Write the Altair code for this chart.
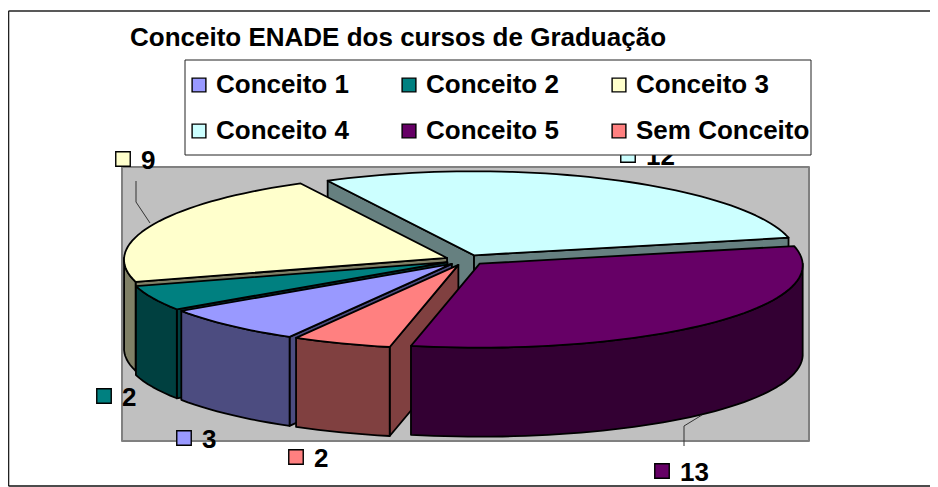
import math
import altair as alt
import pandas as pd

CATEGORIES = ["Conceito 1", "Conceito 2", "Conceito 3", "Conceito 4", "Conceito 5", "Sem Conceito"]
VALUES = [3, 2, 9, 12, 13, 2]
TOP_COLORS = ["#9999FF", "#008080", "#FFFFCC", "#CCFFFF", "#660066", "#FF8080"]
WALL_COLORS = ["#4C4C80", "#004040", "#808066", "#668080", "#330033", "#804040"]
TITLE = "Conceito ENADE dos cursos de Graduação"

# layout (page pixels)
W, H = 922, 479
CX, CY, RX, RY, DEPTH, EXPL = 465.5, 260.0, 323.0, 84.0, 89.0, 0.062
PERSPECTIVE = 0.02
START = 119.6
LABEL_POS = [(184, 438), (104, 396), (123, 159), (628, 155), (662, 471), (296, 457)]
PAINT_ORDER = [3, 2, 1, 0, 5, 4]

total = sum(VALUES)
spans = []
a = START
for v in VALUES:
    b = a + 360.0 * v / total
    spans.append((a, b))
    a = b

x_scale = alt.Scale(domain=[8, 8 + W], nice=False, zero=False)
y_scale = alt.Scale(domain=[8 + H, 8], nice=False, zero=False)
X = alt.X("x:Q", scale=x_scale, axis=None)
Y = alt.Y("y:Q", scale=y_scale, axis=None)
FONT = "Liberation Sans"
FS = 26


def poly(points, fill, stroke="black", sw=1.8):
    df = pd.DataFrame([{"x": p[0], "y": p[1], "i": i} for i, p in enumerate(points)])
    return alt.Chart(df).mark_line(
        interpolate="linear-closed", fill=fill, stroke=stroke, strokeWidth=sw, strokeJoin="round"
    ).encode(x=X, y=Y, order=alt.Order("i:Q"))


def rect(x0, y0, x1, y1, fill, stroke, sw):
    return poly([(x0, y0), (x1, y0), (x1, y1), (x0, y1)], fill, stroke, sw)


def polyline(xs, ys, color="#333333", sw=1.0):
    df = pd.DataFrame({"x": xs, "y": ys, "i": list(range(len(xs)))})
    return alt.Chart(df).mark_line(color=color, strokeWidth=sw).encode(x=X, y=Y, order=alt.Order("i:Q"))


def rim(ax, ay, t):
    r = math.radians(t)
    return (ax + RX * math.cos(r) * (1 + PERSPECTIVE * math.sin(r)), ay + RY * math.sin(r))


def arc(ax, ay, t0, t1, dy=0.0):
    n = max(2, int(abs(t1 - t0) / 2))
    pts = []
    for k in range(n + 1):
        px, py = rim(ax, ay, t0 + (t1 - t0) * k / n)
        pts.append((px, py + dy))
    return pts


layers = [
    polyline([8.5, 8.5], [11, 486], "#222222", 1.6),
    polyline([8.5, 930], [11, 11], "#222222", 1.6),
    polyline([8.5, 930], [486, 486], "#111111", 1.6),
    rect(122, 167, 809, 441, "#C0C0C0", "#808080", 2),
    polyline([136, 136, 150], [181, 202, 223]),
]

for idx in PAINT_ORDER:
    t0, t1 = spans[idx]
    mid = math.radians((t0 + t1) / 2)
    ax = CX + EXPL * RX * math.cos(mid)
    ay = CY + EXPL * RY * math.sin(mid)
    wall = WALL_COLORS[idx]
    # only the radial faces that look towards the viewer are drawn
    for t, normal in ((t0, t0 - 90), (t1, t1 + 90)):
        if math.sin(math.radians(normal)) > 0:
            p = rim(ax, ay, t)
            layers.append(poly([(ax, ay), p, (p[0], p[1] + DEPTH), (ax, ay + DEPTH)], wall))
    for lo, hi in ((0, 180), (360, 540)):
        s, e = max(t0, lo), min(t1, hi)
        if e > s:
            layers.append(poly(arc(ax, ay, s, e) + arc(ax, ay, e, s, DEPTH), wall))
    layers.append(poly([(ax, ay)] + arc(ax, ay, t0, t1), TOP_COLORS[idx]))

layers.append(polyline([684, 684, 702], [446, 426, 415]))

labels = pd.DataFrame({
    "cat": CATEGORIES,
    "val": VALUES,
    "x": [p[0] for p in LABEL_POS],
    "y": [p[1] for p in LABEL_POS],
    "tx": [p[0] + 18 for p in LABEL_POS],
    "ty": [p[1] + 2 for p in LABEL_POS],
})

swatches = alt.Chart(labels).mark_square(size=210, opacity=1, filled=True, stroke="black", strokeWidth=1.4).encode(
    x=X, y=Y,
    fill=alt.Fill("cat:N", scale=alt.Scale(domain=CATEGORIES, range=TOP_COLORS),
                  legend=alt.Legend(
                      title=None, orient="none", legendX=186 - 8, legendY=72 - 8, columns=3,
                      direction="horizontal",
                      symbolType="square", symbolSize=190, symbolStrokeColor="black", symbolStrokeWidth=1.4,
                      labelFont=FONT, labelFontWeight="bold", labelFontSize=FS, labelColor="black",
                      labelLimit=300, labelOffset=4, columnPadding=47, rowPadding=20, padding=0,
                      gridAlign="each",
                  )),
)
texts = alt.Chart(labels).mark_text(
    font=FONT, fontWeight="bold", fontSize=FS, align="left", baseline="middle", color="black"
).encode(x=alt.X("tx:Q", scale=x_scale, axis=None), y=alt.Y("ty:Q", scale=y_scale, axis=None), text="val:N")

layers += [swatches, texts, rect(185, 60, 811, 155, "white", "#222222", 1)]

chart = alt.layer(*layers).properties(
    width=W, height=H, padding=0, autosize=alt.AutoSizeParams(type="none"),
    background="white",
    title=alt.TitleParams(TITLE, anchor="start", frame="group", dx=122, dy=56, offset=0,
                          baseline="middle", font=FONT, fontWeight="bold", fontSize=FS, color="black"),
).configure_view(stroke=None)

chart.save("out.html", embed_options={"renderer": "svg", "actions": False})
